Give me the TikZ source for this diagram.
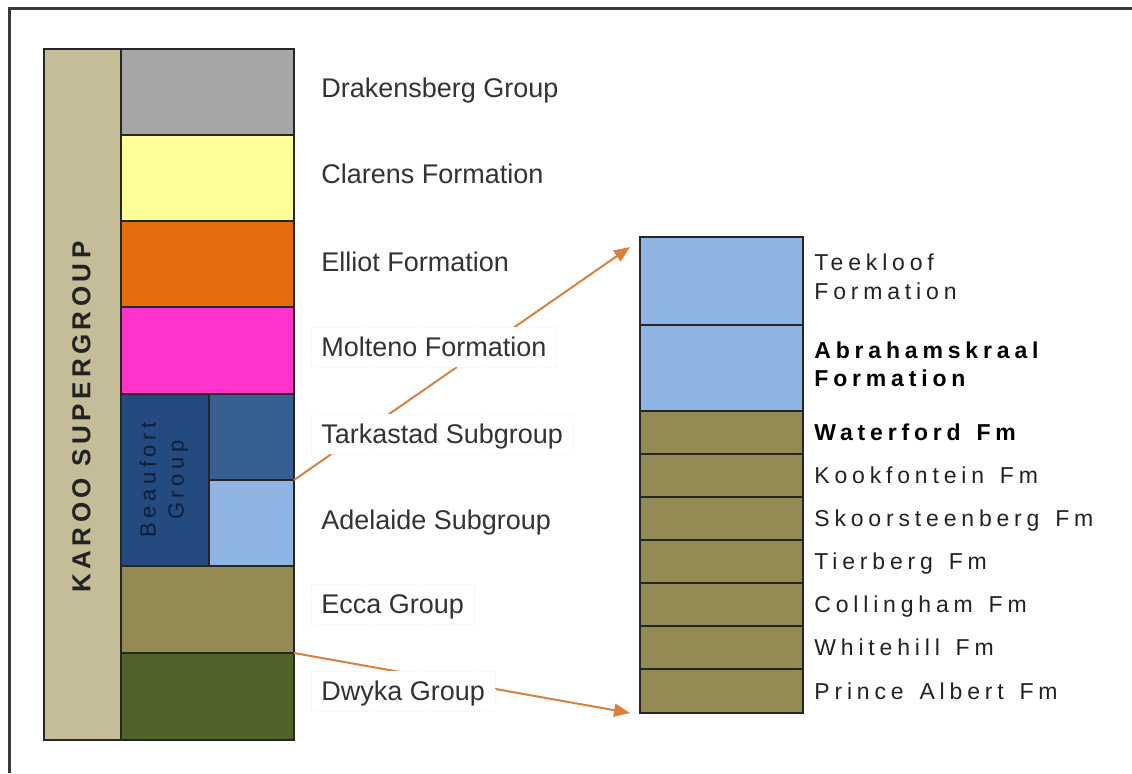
\documentclass[tikz,border=0pt]{standalone}
\usepackage{fontspec}
\setmainfont{Liberation Sans}
\newfontfamily\spaced[LetterSpace=21]{Liberation Sans}
\newfontfamily\karoofont[LetterSpace=17]{Liberation Sans}
\usetikzlibrary{arrows.meta}
\definecolor{cKaroo}{HTML}{C4BD97}
\definecolor{cDrak}{HTML}{A6A6A6}
\definecolor{cClar}{HTML}{FFFF99}
\definecolor{cElli}{HTML}{E46C0A}
\definecolor{cMolt}{HTML}{FF33CC}
\definecolor{cBeau}{HTML}{234B80}
\definecolor{cTark}{HTML}{366092}
\definecolor{cAdel}{HTML}{8DB4E2}
\definecolor{cEcca}{HTML}{948A54}
\definecolor{cDwyk}{HTML}{4F6228}
\definecolor{cArrow}{HTML}{D9823F}
\definecolor{cFrame}{HTML}{3A3A3A}
\definecolor{cLText}{HTML}{333333}
\definecolor{cRText}{HTML}{222222}
\definecolor{cNavy}{HTML}{0E1D38}
\newcommand\mklayer[6]{\node[layer,fill=#6,minimum width={(#4-#2)*0.5pt},minimum height={(#5-#3)*0.5pt}] (#1) at ({(#2+#4)/2},{(#3+#5)/2}) {};}
\newcommand\wsp{\hspace{0.2em}}
\tikzset{
  layer/.style={draw=black!85, line width=0.75pt, inner sep=0pt, outer sep=0pt, rectangle},
  llab/.style={font=\fontsize{13.5pt}{16pt}\selectfont, text=cLText, fill=white, inner xsep=5pt, inner ysep=0pt, text height=14.75pt, text depth=5.25pt, anchor=base west},
  faintbox/.style={draw=black!7, densely dotted, line width=0.4pt},
  rlab/.style={font=\spaced\fontsize{11.5pt}{14.5pt}\selectfont, text=cRText, inner sep=0pt, anchor=base west, align=left},
  arr/.style={draw=cArrow, line width=1pt, -{Triangle[length=8pt,width=6.5pt]}}
}
\begin{document}
\begin{tikzpicture}[x=0.5pt,y=-0.5pt]
\useasboundingbox (0,0) rectangle (1132,773);
% frame
\draw[cFrame, line width=1.5pt] (9.5,773) -- (9.5,8) -- (1132,8);
% left column
\mklayer{karoo}{44}{49}{121}{740}{cKaroo}
\mklayer{drak}{121}{49}{294}{135}{cDrak}
\mklayer{clar}{121}{135}{294}{221}{cClar}
\mklayer{elli}{121}{221}{294}{307}{cElli}
\mklayer{molt}{121}{307}{294}{394}{cMolt}
\mklayer{beau}{121}{394}{209}{566}{cBeau}
\mklayer{tark}{209}{394}{294}{480}{cTark}
\mklayer{adel}{209}{480}{294}{566}{cAdel}
\mklayer{ecca}{121}{566}{294}{653}{cEcca}
\mklayer{dwyk}{121}{653}{294}{740}{cDwyk}
\node[rotate=90, inner sep=0pt, font=\karoofont\bfseries\fontsize{13pt}{15pt}\selectfont, text=cRText] (karootext) at (81.5,417) {KAROO SUPERGROUP};
\node[rotate=90, inner sep=0pt, align=center, font=\spaced\fontsize{11pt}{14pt}\selectfont, text=cNavy] (beautext) at (164,480) {Beaufort\\Group};
% right column
\mklayer{teek}{640}{237}{803}{325}{cAdel}
\mklayer{abra}{640}{325}{803}{411}{cAdel}
\mklayer{wate}{640}{411}{803}{454}{cEcca}
\mklayer{kook}{640}{454}{803}{497}{cEcca}
\mklayer{skoo}{640}{497}{803}{540}{cEcca}
\mklayer{tier}{640}{540}{803}{583}{cEcca}
\mklayer{coll}{640}{583}{803}{626}{cEcca}
\mklayer{whit}{640}{626}{803}{669}{cEcca}
\mklayer{prin}{640}{669}{803}{713}{cEcca}
% arrows
\coordinate (t1) at (630,247);
\coordinate (t2) at (630,713);
\draw[arr] (tark.south east) -- (t1);
\draw[arr] (ecca.south east) -- (t2);
% left labels
\node[llab] (ldrak) at (311,97.5) {Drakensberg Group};
\node[llab] (lclar) at (311,183.5) {Clarens Formation};
\node[llab] (lelli) at (311,271) {Elliot Formation};
\node[llab, faintbox] (lmolt) at (311,356.5) {Molteno Formation};
\node[llab, faintbox] (ltark) at (311,443.5) {Tarkastad Subgroup};
\node[llab] (ladel) at (311,529.5) {Adelaide Subgroup};
\node[llab, faintbox] (lecca) at (311,613.5) {Ecca Group};
\node[llab, faintbox] (ldwyk) at (311,700.5) {Dwyka Group};
% right labels
\node[rlab, anchor=west] (rteek) at (814,277) {Teekloof\\Formation};
\node[rlab, anchor=west, font=\spaced\bfseries\fontsize{11.5pt}{14pt}\selectfont, text=black] (rabra) at (814,364) {Abrahamskraal\\Formation};
\node[rlab, font=\spaced\bfseries\fontsize{11.5pt}{14.5pt}\selectfont, text=black] (rwate) at (814,440) {Waterford\wsp{} Fm};
\node[rlab] (rkook) at (814,483.3) {Kookfontein\wsp{} Fm};
\node[rlab] (rskoo) at (814,526) {Skoorsteenberg\wsp{} Fm};
\node[rlab] (rtier) at (814,569.3) {Tierberg\wsp{} Fm};
\node[rlab] (rcoll) at (814,612.3) {Collingham\wsp{} Fm};
\node[rlab] (rwhit) at (814,655.3) {Whitehill\wsp{} Fm};
\node[rlab] (rprin) at (814,699.3) {Prince\wsp{} Albert\wsp{} Fm};
\end{tikzpicture}
\end{document}
